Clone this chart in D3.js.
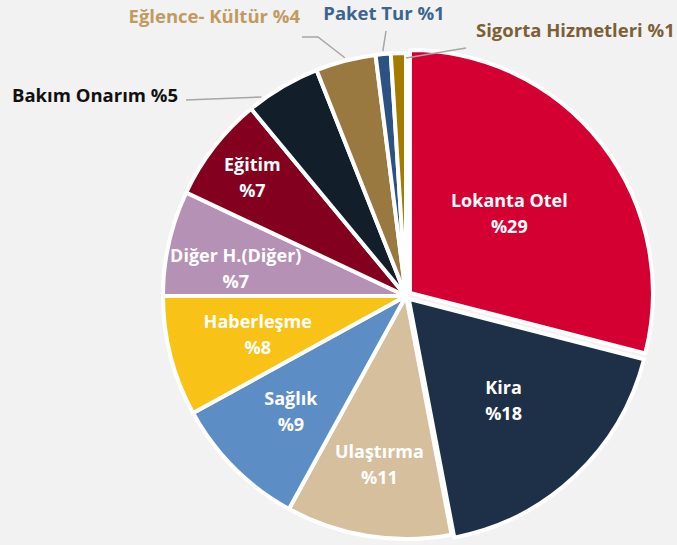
<!DOCTYPE html>
<html>
<head>
<meta charset="utf-8">
<script src="https://cdn.jsdelivr.net/npm/d3@7"></script>
<style>
  body { margin: 0; background: #f2f2f2; }
  svg { display: block; font-family: "Open Sans", sans-serif; }
</style>
</head>
<body>
<div id="chart"></div>
<script>
// harcama kalemleri ve paylari (%)
let categories = ["Lokanta Otel", "Kira", "Ulaştırma", "Sağlık", "Haberleşme",
  "Diğer H.(Diğer)", "Eğitim", "Bakım Onarım", "Eğlence- Kültür", "Paket Tur", "Sigorta Hizmetleri"];
let shares = [29, 18, 11, 9, 8, 7, 7, 5, 4, 1, 1];
let sliceColors = ["#d50032", "#1e3047", "#d5bf9d", "#5c8dc5", "#f8c316",
  "#b592b5", "#84001f", "#121e2a", "#9a7941", "#2b5282", "#a57a00"];

// layout only (not data)
let width = 677, height = 545;
let cx = 406, cy = 296, radius = 243;
let explode = [5, 4, 0, 0, 0, 0, 0, 0, 0, 0, 0];
// inside labels: radius fraction and position along the slice
let insideR = [0.525, 0.57, 0.70, 0.67, 0.63, 0.71, 0.80];
let insideAt = [0.49, 0.5, 0.5, 0.5, 0.5, 0.37, 0.5];
// outside labels for the small slices
let outside = {
  7: { color: "#111111", at: 0.2, dr: 3, elbow: [186, 100], text: [178, 102], anchor: "end" },
  8: { color: "#c19a62", at: 0.5, dr: 3, elbow: [318, 37], elbow2: [302, 37], text: [300, 23], anchor: "end" },
  9: { color: "#3b6490", at: 0.5, dr: 3, elbow: [386, 31], text: [384, 20], anchor: "middle" },
  10: { color: "#7d5f36", at: 1.0, dr: -5, elbow: [466, 48], text: [476, 37], anchor: "start" }
};

let svg = d3.select("#chart").append("svg")
  .attr("width", width).attr("height", height);

svg.append("rect").attr("width", width).attr("height", height).attr("fill", "#f2f2f2");

let pie = d3.pie().sort(null).value(d => d);
let arcs = pie(shares);
let arc = d3.arc().innerRadius(0).outerRadius(radius);

function offset(d, i) {
  let a = (d.startAngle + d.endAngle) / 2;
  return [Math.sin(a) * explode[i], -Math.cos(a) * explode[i]];
}

let g = svg.append("g").attr("transform", `translate(${cx},${cy})`);

g.selectAll("path.slice")
  .data(arcs).enter()
  .append("path")
  .attr("class", "slice")
  .attr("transform", (d, i) => { let o = offset(d, i); return `translate(${o[0]},${o[1]})`; })
  .attr("d", arc)
  .attr("fill", (d, i) => sliceColors[i])
  .attr("stroke", "#ffffff")
  .attr("stroke-width", 4)
  .attr("stroke-linejoin", "round");

// labels inside the big slices
arcs.forEach(function(d, i) {
  if (i >= insideR.length) return;
  let o = offset(d, i);
  let a = d.startAngle + (d.endAngle - d.startAngle) * insideAt[i];
  let r = radius * insideR[i];
  let x = Math.sin(a) * r + o[0], y = -Math.cos(a) * r + o[1];
  let t = g.append("text")
    .attr("text-anchor", "middle")
    .attr("fill", "#ffffff")
    .attr("font-size", 18)
    .attr("font-weight", 700);
  t.append("tspan").attr("x", x).attr("y", y - 6).text(categories[i]);
  t.append("tspan").attr("x", x).attr("y", y + 20).text("%" + shares[i]);
});

// outside labels with leader lines
arcs.forEach(function(d, i) {
  let L = outside[i];
  if (!L) return;
  let a = d.startAngle + (d.endAngle - d.startAngle) * L.at;
  let p = [cx + Math.sin(a) * (radius + L.dr), cy - Math.cos(a) * (radius + L.dr)];
  let pts = [p, L.elbow];
  if (L.elbow2) pts.push(L.elbow2);
  svg.append("path")
    .attr("d", d3.line()(pts))
    .attr("fill", "none")
    .attr("stroke", "#a6a6a6")
    .attr("stroke-width", 1.5);
  svg.append("text")
    .attr("x", L.text[0]).attr("y", L.text[1])
    .attr("text-anchor", L.anchor)
    .attr("fill", L.color)
    .attr("font-size", 18.5)
    .attr("font-weight", 700)
    .text(categories[i] + " %" + shares[i]);
});
</script>
</body>
</html>
